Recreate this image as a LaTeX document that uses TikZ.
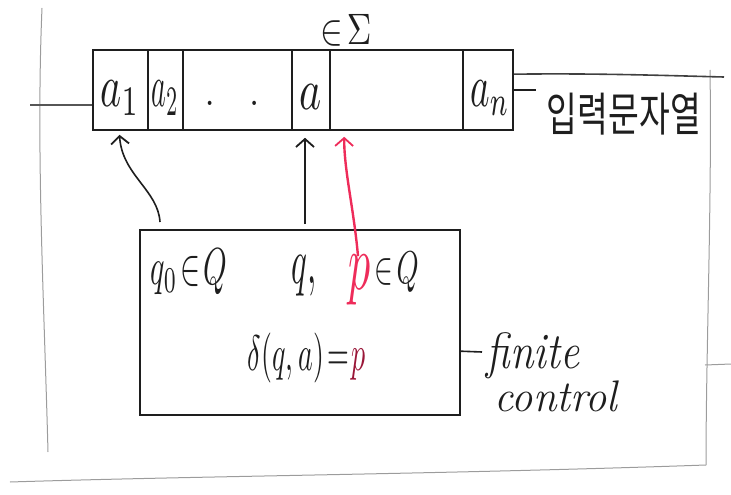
\documentclass[tikz,border=0pt]{standalone}
\usepackage{graphicx}
\usepackage{fontspec}
\newfontfamily\krfont{Noto Sans CJK KR}
\usetikzlibrary{calc,arrows.meta}
\definecolor{ink}{HTML}{1E1E1E}
\definecolor{redink}{HTML}{EE2C5A}
\definecolor{maroonink}{HTML}{9A1638}
\definecolor{paperedge}{HTML}{9C9C9C}
\newcommand{\hm}[3]{\scalebox{#1}[#2]{$#3$}}
\begin{document}
\begin{tikzpicture}[x=1pt,y=-1pt,line width=1.6pt,
  cell/.style={draw=ink, minimum height=80pt, inner sep=0pt, text=ink},
  lbl/.style={inner sep=0pt, text=ink},
  hand/.style={inner sep=0pt, text=ink, font=\fontsize{34}{38}\selectfont\itshape},
  tip/.style={-{Straight Barb[length=8pt,width=18pt,line width=1.8pt]}},
  edgeline/.style={draw=paperedge, line width=1pt}]
\useasboundingbox (0,0) rectangle (731,495);
% paper edges
\draw[edgeline] (42,8) .. controls (36,150) and (44,300) .. (48,452);
\draw[edgeline] (710,70) .. controls (712,200) and (706,350) .. (706,465);
\draw[edgeline] (10,482) .. controls (200,476) and (450,474) .. (706,465);
\draw[edgeline] (705,365) -- (731,364);
% tape cells
\node[cell, minimum width=55pt] (c1) at (120.5,90) {};
\node[cell, minimum width=35pt] (c2) at (165.5,90) {};
\node[cell, minimum width=109pt] (cd) at (237.5,90) {};
\node[cell, minimum width=38pt] (ca) at (311,90) {};
\node[cell, minimum width=133pt] (cb) at (396.5,90) {};
\node[cell, minimum width=50pt] (cn) at (488,90) {};
\node[lbl] (t1) at (120,98) {\hm{4}{6}{a_1}};
\node[lbl] (t2) at (165,98) {\hm{2.8}{6}{a_2}};
\node[lbl] (ta) at (311,97) {\hm{4.2}{5.8}{a}};
\node[lbl] (tn) at (490,98) {\hm{3.7}{6}{a_n}};
\node[lbl] (dots) at (232,103) {\hm{3.5}{4}{.\quad.}};
\node[lbl] (sig) at (346,30) {\hm{3.4}{4.4}{\in\!\Sigma}};
% lines beside the tape
\coordinate (lt) at (30,105);
\draw[ink!75] (lt) -- (c1.west |- lt);
\coordinate (rt) at (724,77);
\draw[ink!85] ($(cn.north east)+(0,25)$) .. controls (600,73) and (680,76) .. (rt);
\coordinate (dashend) at (536,90);
\draw[ink] (cn.east |- dashend) -- (dashend);
\node[inner sep=0pt, text=ink, anchor=west] (inp) at (546,114) {\scalebox{1.08}[1.5]{\fontsize{31}{34}\krfont 입력문자열}};
% control box
\node[draw=ink, minimum width=320pt, minimum height=185pt, inner sep=0pt] (ctrl) at (300,322.5) {};
\node[lbl] (q0) at (189,272) {\hm{3}{5.2}{q_0\!\in\! Q}};
\node[lbl] (qc) at (304,276) {\hm{3.3}{6.5}{q,}};
\node[lbl, text=redink] (p) at (360,280) {\hm{4.4}{8}{p}};
\node[lbl, anchor=west] (inq) at (374,272) {\hm{2.8}{4.6}{\in\! Q}};
\node[lbl] (delta) at (307,358) {\hm{2.8}{5}{\delta(q,a)\!=\!\textcolor{maroonink}{p}}};
% finite control label
\coordinate (fc) at ($(ctrl.north east)+(0,122)$);
\coordinate (fce) at (482,352);
\draw[ink] (fc) -- (fce);
\node[hand, anchor=west] (fin) at (486,356) {\scalebox{1.25}[1.5]{finite}};
\node[hand, anchor=west] (con) at (494,396) {\scalebox{1.25}[1.3]{control}};
% arrows
\coordinate (s1) at (160,222);
\coordinate (s2) at (305,224);
\draw[ink, tip] (s1) .. controls (158,190) and (122,175) .. ($(c1.south)+(-1,4)$);
\draw[ink, tip] (s2) -- ($(ca.south)+(-6,7)$);
\draw[redink, line width=2.4pt, tip] ($(p.north)+(-2,2)$) .. controls (354,210) and (344,170) .. ($(cb.south west)+(15,6)$);
\end{tikzpicture}
\end{document}
